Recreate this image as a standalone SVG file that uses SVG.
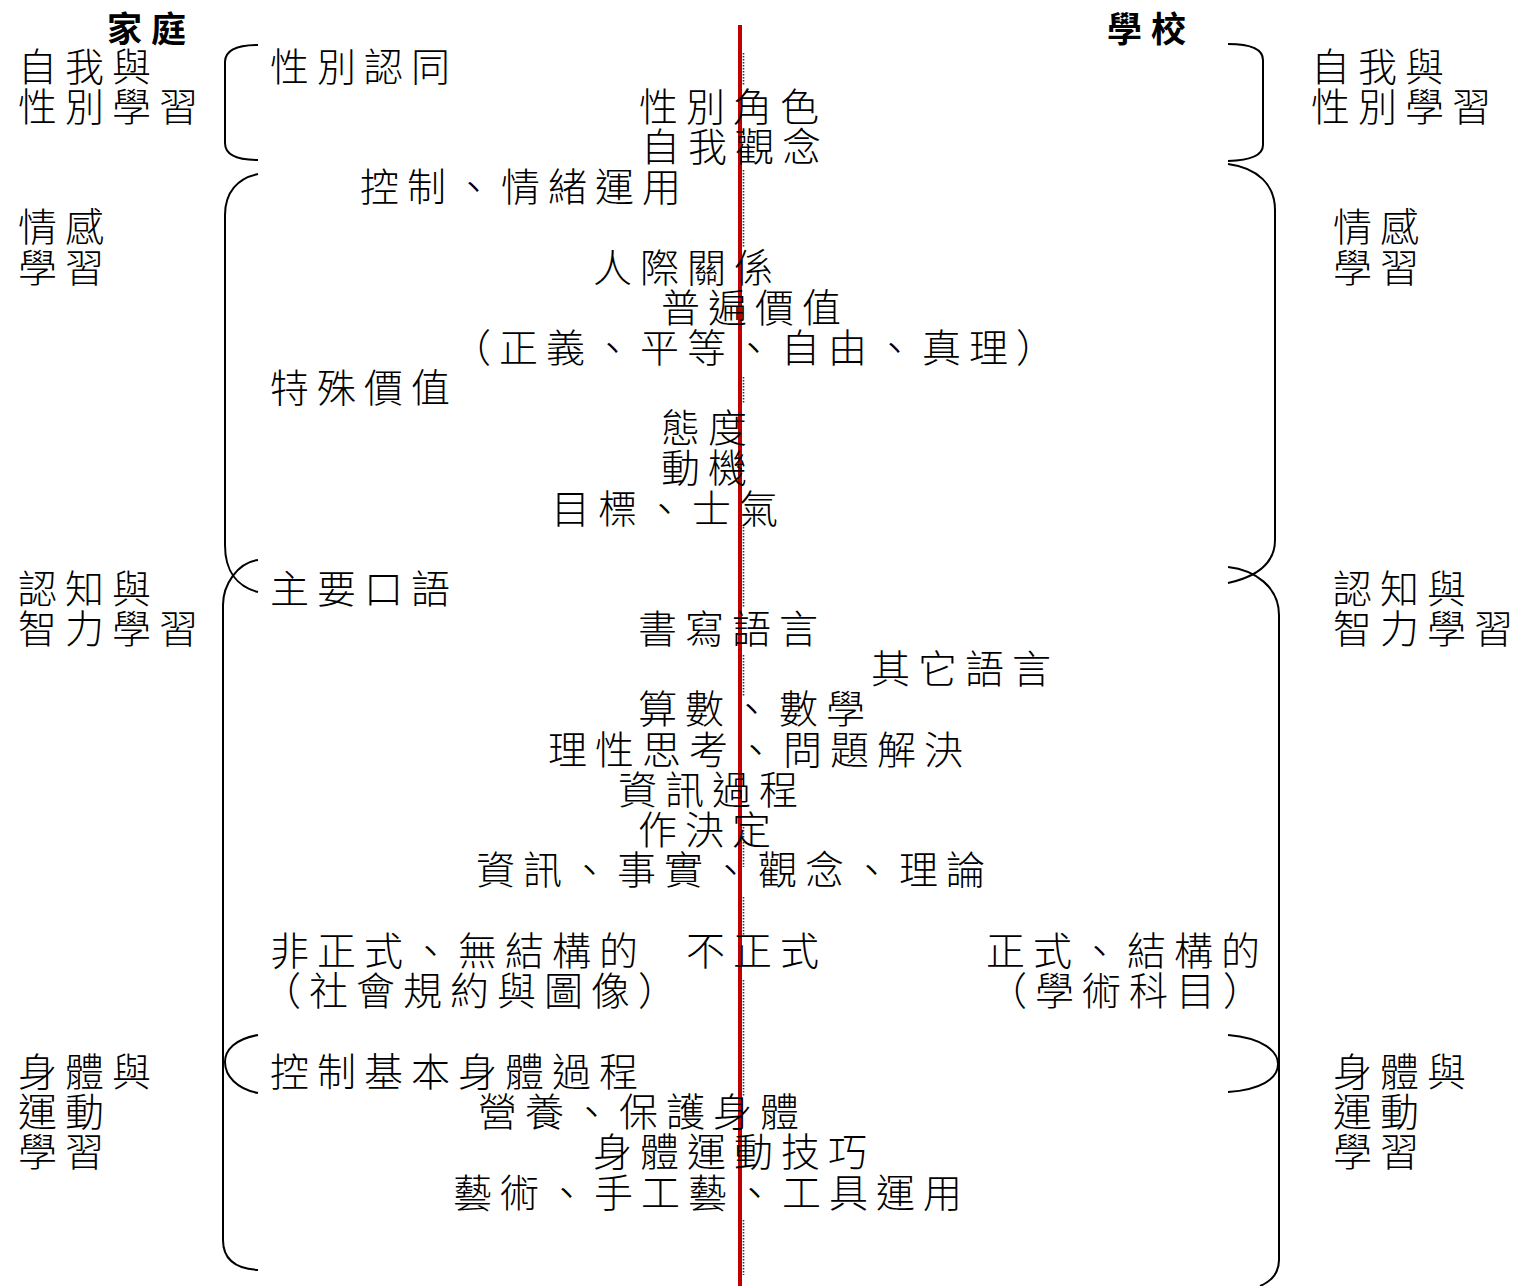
<svg xmlns="http://www.w3.org/2000/svg" width="1521" height="1286" viewBox="0 0 1521 1286">
<style>
.t{font-family:"Noto Sans CJK TC","Noto Sans CJK SC",sans-serif;font-size:39px;font-weight:300;letter-spacing:8px;fill:#000}
.h{font-family:"Noto Sans CJK TC","Noto Sans CJK SC",sans-serif;font-size:35px;font-weight:bold;letter-spacing:9px;fill:#000}
.b{fill:none;stroke:#000;stroke-width:2}
</style>
<rect width="1521" height="1286" fill="#fff"/>
<g id="axis">
<g fill="none" stroke="#333" stroke-width="1.6" stroke-dasharray="1.5 1.5">
<line x1="743.5" y1="53" x2="743.5" y2="85"/>
<line x1="743.5" y1="170" x2="743.5" y2="247"/>
<line x1="743.5" y1="377" x2="743.5" y2="403"/>
<line x1="743.5" y1="527" x2="743.5" y2="608"/>
<line x1="743.5" y1="655" x2="743.5" y2="697"/>
<line x1="743.5" y1="827" x2="743.5" y2="867"/>
<line x1="743.5" y1="897" x2="743.5" y2="937"/>
<line x1="743.5" y1="980" x2="743.5" y2="1097"/>
<line x1="743.5" y1="1220" x2="743.5" y2="1275"/>
</g>
<line x1="740" y1="25" x2="740" y2="1286" stroke="#c00000" stroke-width="4"/>
</g>
<g id="braces">
<path class="b" d="M258,45 Q225,45 225,62 L225,143 Q225,160 258,160"/>
<path class="b" d="M258,174 C238,178 225,192 225,215 L225,545 C225,572 238,587 258,592"/>
<path class="b" d="M258,560 C237,563 223,585 223,605 L223,1240 Q223,1268 258,1270"/>
<path class="b" d="M258,1035 C235,1039 225,1050 225,1062 C225,1076 237,1089 258,1093"/>
<path class="b" d="M1228,44 Q1263,44 1263,60 L1263,145 Q1263,160 1228,161"/>
<path class="b" d="M1228,164 C1258,168 1275,185 1275,210 L1275,540 C1275,562 1260,576 1228,583"/>
<path class="b" d="M1228,567 C1255,570 1279,587 1279,615 L1279,1260 Q1279,1278 1260,1286"/>
<path class="b" d="M1228,1035 C1264,1038 1278,1052 1278,1064 C1278,1079 1260,1090 1228,1092"/>
</g>
<g id="header-home"><text class="h" x="107" y="42">家庭</text></g>
<g id="header-school"><text class="h" x="1107" y="42">學校</text></g>
<g id="label-left-self"><text class="t" x="18" y="81">自我與</text><text class="t" x="18" y="121">性別學習</text></g>
<g id="label-left-affect"><text class="t" x="18" y="241">情感</text><text class="t" x="18" y="282">學習</text></g>
<g id="label-left-cog"><text class="t" x="18" y="603">認知與</text><text class="t" x="18" y="643">智力學習</text></g>
<g id="label-left-body"><text class="t" x="18" y="1086">身體與</text><text class="t" x="18" y="1126">運動</text><text class="t" x="18" y="1166">學習</text></g>
<g id="label-right-self"><text class="t" x="1311" y="81">自我與</text><text class="t" x="1311" y="121">性別學習</text></g>
<g id="label-right-affect"><text class="t" x="1333" y="241">情感</text><text class="t" x="1333" y="282">學習</text></g>
<g id="label-right-cog"><text class="t" x="1333" y="603">認知與</text><text class="t" x="1333" y="643">智力學習</text></g>
<g id="label-right-body"><text class="t" x="1333" y="1086">身體與</text><text class="t" x="1333" y="1126">運動</text><text class="t" x="1333" y="1166">學習</text></g>
<g id="item-gender-identity"><text class="t" x="270" y="81">性別認同</text></g>
<g id="item-gender-role"><text class="t" x="639" y="121">性別角色</text></g>
<g id="item-self-concept"><text class="t" x="641" y="161">自我觀念</text></g>
<g id="item-emotion"><text class="t" x="360" y="201">控制、情緒運用</text></g>
<g id="item-relations"><text class="t" x="593" y="282">人際關係</text></g>
<g id="item-universal"><text class="t" x="661" y="322">普遍價值</text></g>
<g id="item-universal-list"><text class="t" x="452" y="362">（正義、平等、自由、真理）</text></g>
<g id="item-special"><text class="t" x="270" y="402">特殊價值</text></g>
<g id="item-attitude"><text class="t" x="661" y="442">態度</text></g>
<g id="item-motive"><text class="t" x="661" y="482">動機</text></g>
<g id="item-goal"><text class="t" x="551" y="523">目標、士氣</text></g>
<g id="item-oral"><text class="t" x="270" y="603">主要口語</text></g>
<g id="item-written"><text class="t" x="638" y="643">書寫語言</text></g>
<g id="item-other-lang"><text class="t" x="871" y="683">其它語言</text></g>
<g id="item-math"><text class="t" x="638" y="723">算數、數學</text></g>
<g id="item-reason"><text class="t" x="548" y="764">理性思考、問題解決</text></g>
<g id="item-info-process"><text class="t" x="618" y="804">資訊過程</text></g>
<g id="item-decision"><text class="t" x="638" y="844">作決定</text></g>
<g id="item-facts"><text class="t" x="476" y="884">資訊、事實、觀念、理論</text></g>
<g id="item-informal"><text class="t" x="270" y="965">非正式、無結構的</text><text class="t" x="262" y="1005">（社會規約與圖像）</text></g>
<g id="item-nonformal"><text class="t" x="686" y="965">不正式</text></g>
<g id="item-formal"><text class="t" x="986" y="965">正式、結構的</text><text class="t" x="988" y="1005">（學術科目）</text></g>
<g id="item-body-control"><text class="t" x="270" y="1086">控制基本身體過程</text></g>
<g id="item-nutrition"><text class="t" x="478" y="1126">營養、保護身體</text></g>
<g id="item-motor"><text class="t" x="593" y="1166">身體運動技巧</text></g>
<g id="item-arts"><text class="t" x="453" y="1207">藝術、手工藝、工具運用</text></g>
</svg>
